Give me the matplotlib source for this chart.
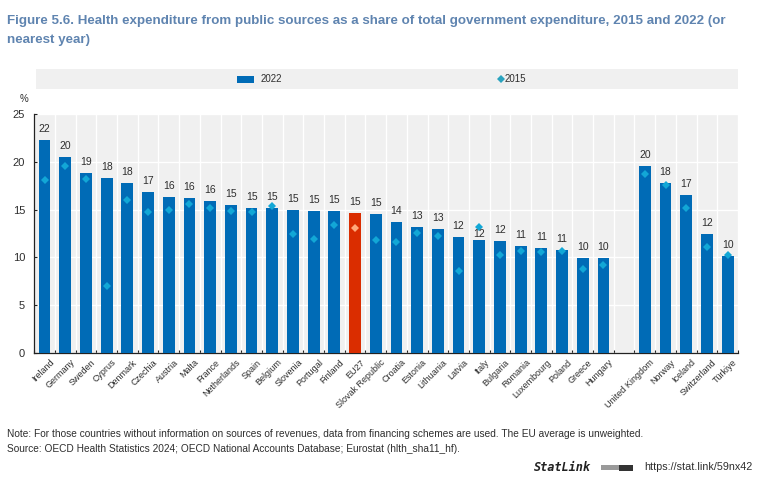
import numpy as np
import matplotlib
matplotlib.use("Agg")
import matplotlib.pyplot as plt
from matplotlib.patches import Rectangle
from matplotlib.lines import Line2D

countries = ["Ireland", "Germany", "Sweden", "Cyprus", "Denmark", "Czechia", "Austria", "Malta", "France",
             "Netherlands", "Spain", "Belgium", "Slovenia", "Portugal", "Finland", "EU27", "Slovak Republic",
             "Croatia", "Estonia", "Lithuania", "Latvia", "Italy", "Bulgaria", "Romania", "Luxembourg", "Poland",
             "Greece", "Hungary", "", "United Kingdom", "Norway", "Iceland", "Switzerland", "Türkiye"]
v2022 = [22.3, 20.45, 18.85, 18.3, 17.8, 16.8, 16.35, 16.2, 15.85, 15.45, 15.2, 15.2, 15.0, 14.85, 14.85, 14.65,
         14.55, 13.75, 13.2, 13.0, 12.1, 11.85, 11.75, 11.15, 11.0, 10.75, 9.9, 9.9, np.nan, 19.6, 17.8, 16.55,
         12.4, 10.15]
v2015 = [18.1, 19.55, 18.2, 7.05, 16.05, 14.75, 15.0, 15.55, 15.15, 14.9, 14.8, 15.4, 12.45, 11.95, 13.4, 13.05,
         11.8, 11.65, 12.5, 12.2, 8.55, 13.15, 10.3, 10.7, 10.6, 10.7, 8.8, 9.2, np.nan, 18.7, 17.6, 15.15,
         11.05, 10.2]
yticks = [0, 5, 10, 15, 20, 25]
title1 = "Figure 5.6. Health expenditure from public sources as a share of total government expenditure, 2015 and 2022 (or"
title2 = "nearest year)"
note1 = ("Note: For those countries without information on sources of revenues, data from financing schemes are "
         "used. The EU average is unweighted.")
note2 = "Source: OECD Health Statistics 2024; OECD National Accounts Database; Eurostat (hlth_sha11_hf)."

plt.rcParams["font.family"] = ["Liberation Sans", "DejaVu Sans"]
W, H = 770, 490
fig = plt.figure(figsize=(W / 100, H / 100), dpi=100, facecolor="white")

def fx(x): return x / W
def fy(y): return 1 - y / H

def fitted(text_obj, target_px):
    """Scale a text's font so its drawn width is target_px."""
    r = fig.canvas.get_renderer()
    w = text_obj.get_window_extent(r).width
    size = text_obj.get_fontsize() * target_px / w
    text_obj.set_fontsize(size)
    return size

BLUE, RED, TEAL, ORANGE, BAND, INK = "#006BB6", "#DA2D00", "#12A7D6", "#FFA97A", "#F0F0F0", "#2E2E2E"

ax = fig.add_axes([fx(34.2), fy(353), fx(738 - 34.2), (353 - 114) / H], facecolor=BAND)
x = np.arange(len(countries))
ax.set_xlim(-0.5, len(countries) - 0.5)
ax.set_ylim(0, 25)
colors = [RED if c == "EU27" else BLUE for c in countries]
ax.bar(x, v2022, width=0.57, color=colors, zorder=3)
for i, c in enumerate(countries):
    if np.isnan(v2015[i]):
        continue
    ax.plot(x[i], v2015[i], marker="D", ms=4.2, mew=0, color=ORANGE if c == "EU27" else TEAL, zorder=4)
    off = 5.6 if c == "Italy" else 11
    ax.annotate(f"{v2022[i]:.0f}", (x[i], v2022[i]), xytext=(0, off * 0.72), textcoords="offset points",
                ha="center", va="center", fontsize=7.5, color=INK, zorder=5)

ax.set_axisbelow(True)
ax.yaxis.grid(True, color="white", lw=1)
ax.xaxis.grid(True, color="white", lw=1)
ax.set_xticks(np.arange(len(countries) + 1) - 0.5)
ax.set_xticklabels([])
ax.tick_params(axis="x", length=2.5, width=0.8, direction="in", color="#222222")
ax.set_yticks(yticks)
ax.tick_params(axis="y", length=2.5, width=0.8, direction="in", color="#222222", labelsize=8,
               labelcolor=INK, pad=6.5)
for s in ("top", "right"):
    ax.spines[s].set_visible(False)
for s in ("left", "bottom"):
    ax.spines[s].set_linewidth(0.9)
    ax.spines[s].set_color("#222222")

for i, c in enumerate(countries):
    ax.annotate(c, (x[i], 0), xytext=(3.5, -3.5), textcoords="offset points", rotation=45, ha="right", va="top",
                rotation_mode="anchor", fontsize=6.5, color=INK)

fig.text(fx(20), fy(99), "%", fontsize=7, color=INK, ha="left", va="center")

TITLE = "#5F84B0"
t1 = fig.text(fx(7), fy(21), title1, fontsize=10, fontweight="bold", color=TITLE, ha="left", va="center")
size = fitted(t1, 721)
fig.text(fx(7), fy(40), title2, fontsize=size, fontweight="bold", color=TITLE, ha="left", va="center")

fig.add_artist(Rectangle((fx(36), fy(89.5)), fx(738 - 36), 20.5 / H, transform=fig.transFigure,
                         facecolor=BAND, edgecolor="none"))
fig.add_artist(Rectangle((fx(237), fy(83)), fx(16.5), 7.3 / H, transform=fig.transFigure,
                         facecolor=BLUE, edgecolor="none"))
fig.text(fx(261), fy(79), "2022", fontsize=7, color=INK, ha="left", va="center")
fig.add_artist(Line2D([fx(500.7)], [fy(79)], marker="D", ms=3.6, mew=0, color="#2AA3BF", transform=fig.transFigure))
fig.text(fx(505), fy(79), "2015", fontsize=7, color=INK, ha="left", va="center")

n1 = fig.text(fx(7), fy(434), note1, fontsize=8, color=INK, ha="left", va="center")
size = fitted(n1, 636)
fig.text(fx(7), fy(449), note2, fontsize=size, color=INK, ha="left", va="center")

fig.text(fx(534), fy(467), "StatLink", fontsize=8.6, family="DejaVu Sans Mono", fontweight="bold",
         fontstyle="italic", color="#222222", ha="left", va="center")
fig.add_artist(Rectangle((fx(601), fy(470)), fx(18), 5 / H, transform=fig.transFigure,
                         facecolor="#9A9A9A", edgecolor="none"))
fig.add_artist(Rectangle((fx(619), fy(470.5)), fx(14), 6 / H, transform=fig.transFigure,
                         facecolor="#333333", edgecolor="none"))
u = fig.text(fx(644), fy(467), "https://stat.link/59nx42", fontsize=8, color=INK, ha="left", va="center")
fitted(u, 107)

fig.savefig("out.png", dpi=100)
